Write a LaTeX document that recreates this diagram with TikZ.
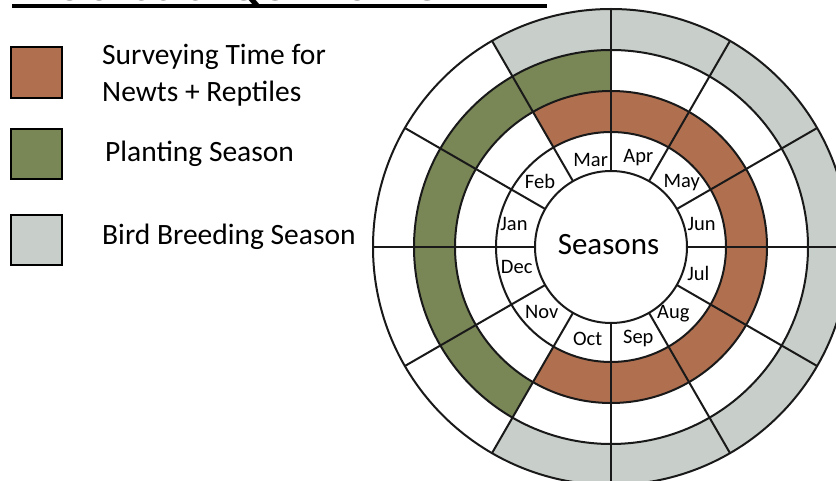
\documentclass[tikz,border=0pt]{standalone}
\usepackage{fontspec}
\setmainfont{Carlito}
\definecolor{survbrown}{RGB}{176,112,80}
\definecolor{plantgreen}{RGB}{121,134,86}
\definecolor{birdgray}{RGB}{200,206,201}
\newcommand\annsec[5]{\fill[#1] (#2:#4pt) arc[start angle=#2,end angle=#3,radius=#4pt] -- (#3:#5pt) arc[start angle=#3,end angle=#2,radius=#5pt] -- cycle;}
\begin{document}
\begin{tikzpicture}[x=1pt,y=-1pt,
  ring/.style={line width=2pt, draw=black!90},
  month/.style={font=\fontsize{20.5}{20.5}\selectfont, anchor=base, inner sep=0pt},
  legtext/.style={font=\fontsize{29.5}{36}\selectfont, anchor=base west, inner sep=0pt},
  legbox/.style={draw=black, line width=2pt}]
\useasboundingbox (0,0) rectangle (836,481);
\fill[white] (0,0) rectangle (836,481);
\begin{scope}
\clip (0,0) rectangle (836,481);
\node[anchor=base west, inner sep=0pt, font=\bfseries\fontsize{46}{46}\selectfont] (title) at (4,1) {PROCESS SEQUENCING};
\draw[line width=3.5pt] (12,6) -- (547,6);
\begin{scope}[shift={(611,247)}, y=1pt]
\annsec{survbrown}{-120}{120}{115}{156}
\annsec{plantgreen}{90}{240}{156}{197}
\annsec{birdgray}{-120}{120}{197}{238}
\foreach \r in {76,115,156,197,238} \draw[ring] (0,0) circle[radius=\r pt];
\foreach \a in {0,30,...,330} \draw[ring] (\a:76pt) -- (\a:238pt);
\end{scope}
\end{scope}
% centre
\node[anchor=base, inner sep=0pt, font=\fontsize{31}{31}\selectfont] (seasons) at (608.5,255) {Seasons};
% months
\node[month] (mar) at (590.7,167) {Mar};
\node[month] (apr) at (638.3,163) {Apr};
\node[month] (may) at (681.7,188) {May};
\node[month] (jun) at (701.7,231) {Jun};
\node[month] (jul) at (698.3,281) {Jul};
\node[month] (aug) at (673.3,319) {Aug};
\node[month] (sep) at (638.3,344) {Sep};
\node[month] (oct) at (587.7,345) {Oct};
\node[month] (nov) at (541.7,319) {Nov};
\node[month] (dec) at (516.7,274) {Dec};
\node[month] (jan) at (514,231) {Jan};
\node[month] (feb) at (540,189) {Feb};
% legend
\draw[legbox, fill=survbrown] (11,47) rectangle (62,98);
\draw[legbox, fill=plantgreen] (11,129) rectangle (62,179);
\draw[legbox, fill=birdgray] (11,215) rectangle (62,265);
\node[legtext] (l1a) at (102,65) {Surveying Time for};
\node[legtext] (l1b) at (102,101.7) {Newts + Reptiles};
\node[legtext] (l2) at (105,161.7) {Planting Season};
\node[legtext] (l3) at (102,245) {Bird Breeding Season};
\end{tikzpicture}
\end{document}
